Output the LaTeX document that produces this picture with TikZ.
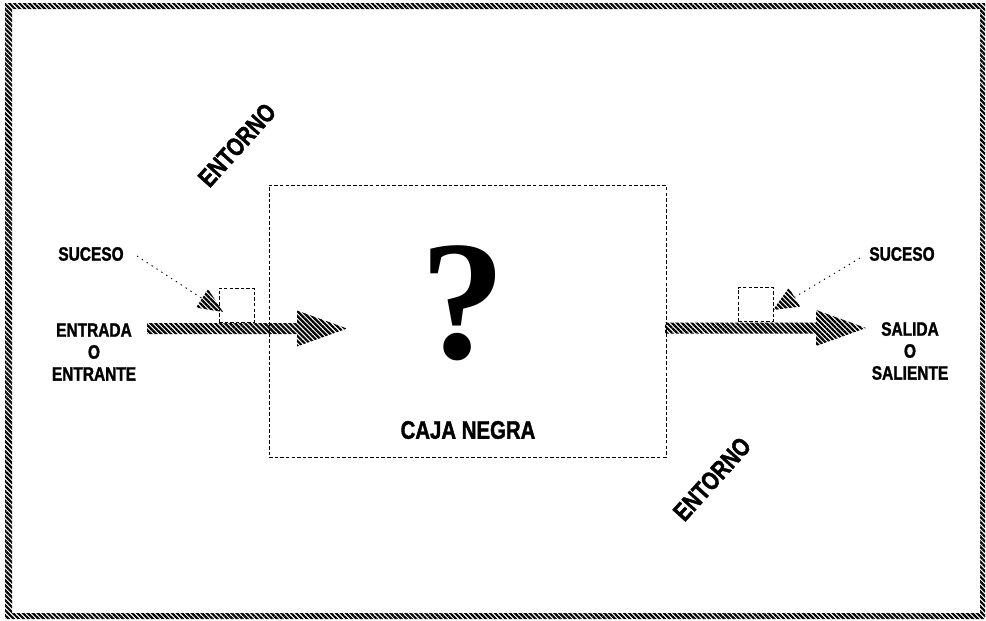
\documentclass[tikz,border=0pt]{standalone}
\usepackage{fontspec}
\setmainfont{Liberation Sans}
\newfontfamily\labelfont{Liberation Sans}[FakeStretch=0.8,BoldFont={Liberation Sans Bold},BoldFeatures={FakeBold=1.5}]
\newfontfamily\markfont{Liberation Serif}[BoldFont={Liberation Serif Bold}]
\usetikzlibrary{calc,patterns.meta}

\newcommand{\hatcharrow}[2]{%
  \fill[hatch] ($(#1)+(0,-5.5)$) -- ($(#2)+(-50,-5.5)$) -- ($(#2)+(-50,-18)$) -- (#2)
    -- ($(#2)+(-50,18)$) -- ($(#2)+(-50,5.5)$) -- ($(#1)+(0,5.5)$) -- cycle;}
\newcommand{\smallhead}[2]{%
  \draw[hint] (#1) -- ($(#2)!0.5cm!(#1)$);
  \fill[hatch] (#2) -- ($(#2)!0.5cm!(#1)!0.22cm!90:(#2)$) -- ($(#2)!0.5cm!(#1)!0.22cm!-90:(#2)$) -- cycle;}

\begin{document}
\begin{tikzpicture}[x=0.02cm,y=-0.02cm,
    hatch/.style={pattern={Lines[angle=135,distance=2pt,line width=1.25pt]}},
    lbl/.style={font=\labelfont\bfseries\fontsize{11}{12.5}\selectfont,align=center,inner sep=0pt},
    big/.style={font=\labelfont\bfseries\fontsize{14.5}{16}\selectfont,inner sep=0pt},
    dbox/.style={draw,dash pattern=on 2pt off 1.2pt,line width=0.5pt,inner sep=0pt},
    hint/.style={dash pattern=on 0.8pt off 2.5pt,line width=0.5pt}]
    \useasboundingbox (0,0) rectangle (986,620);
    \fill[hatch,even odd rule] (5,3) rectangle (985,619) (12,9) rectangle (980,613);

    \node[dbox,minimum width=7.94cm,minimum height=5.44cm] (caja) at (467.5,321) {};
    \node[inner sep=0pt,font=\markfont\bfseries\fontsize{97}{97}\selectfont] (q) at (463,303) {?};
    \node[big] (cn) at (468,430) {CAJA NEGRA};

    \node[big,rotate=48] (env1) at (237,145) {ENTORNO};
    \node[big,rotate=48] (env2) at (712,479) {ENTORNO};

    \node[lbl] (sin) at (91,254) {SUCESO};
    \node[lbl] (ent) at (94,352) {ENTRADA\\O\\ENTRANTE};
    \node[lbl] (sout) at (902,254) {SUCESO};
    \node[lbl] (sal) at (910,351) {SALIDA\\O\\SALIENTE};

    \node[dbox,minimum width=0.7cm,minimum height=0.68cm] (sqin) at (236.5,305) {};
    \node[dbox,minimum width=0.7cm,minimum height=0.68cm] (sqout) at (755.5,304.5) {};

    \coordinate (inA) at (147,328.5);
    \coordinate (inB) at (347,328.5);
    \coordinate (outA) at (665,328);
    \coordinate (outB) at (866,328);
    \hatcharrow{inA}{inB}
    \hatcharrow{outA}{outB}

    \coordinate (hin) at (137,256);
    \coordinate (tin) at (223,312);
    \coordinate (hout) at (860,258);
    \coordinate (tout) at (773,310);
    \smallhead{hin}{tin}
    \smallhead{hout}{tout}
\end{tikzpicture}
\end{document}
